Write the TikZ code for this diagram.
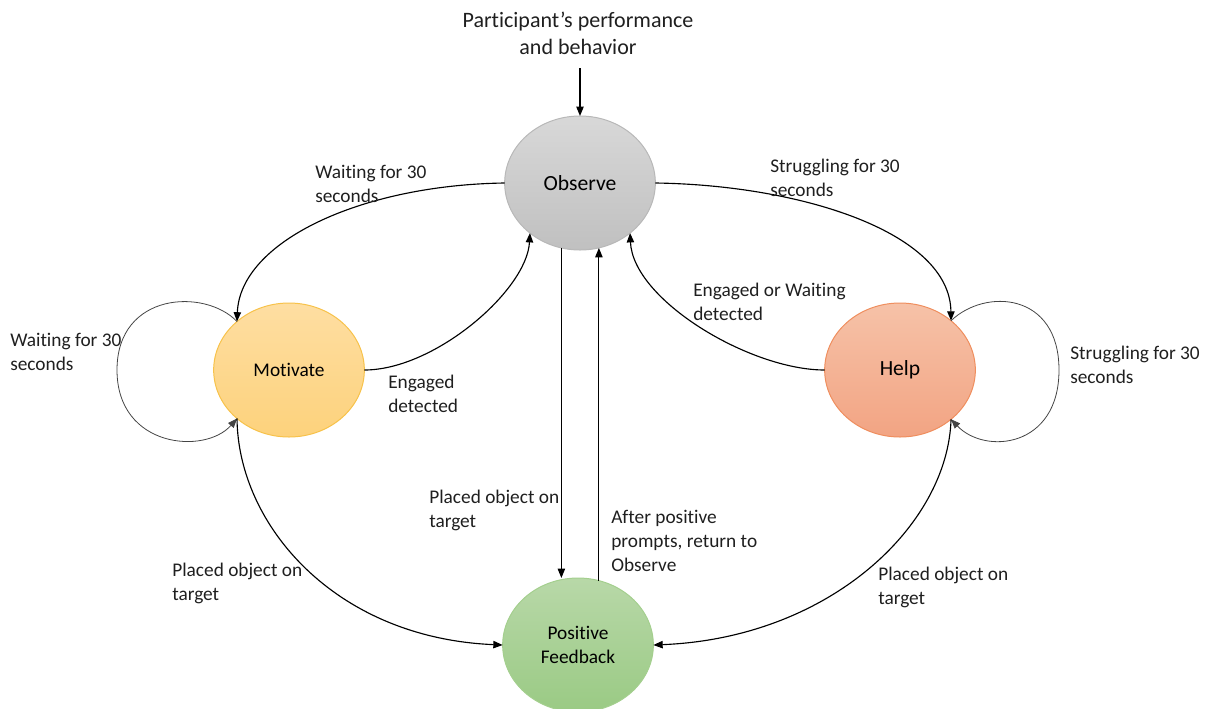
\documentclass[tikz,border=0pt]{standalone}
\usepackage{fontspec}
\setmainfont{Carlito}[Ligatures=NoCommon]
\usetikzlibrary{shapes.geometric,arrows.meta}

\definecolor{obsTop}{HTML}{D8D8D8}
\definecolor{obsBot}{HTML}{C0C0C0}
\definecolor{obsLine}{HTML}{B8B8B8}
\definecolor{motTop}{HTML}{FEDEA2}
\definecolor{motBot}{HTML}{FDD27C}
\definecolor{motLine}{HTML}{F7C24A}
\definecolor{helpTop}{HTML}{F6C2A8}
\definecolor{helpBot}{HTML}{F2A483}
\definecolor{helpLine}{HTML}{EF8E5E}
\definecolor{pfTop}{HTML}{B8D8A8}
\definecolor{pfBot}{HTML}{9ACA84}
\definecolor{pfLine}{HTML}{A4CF8E}
\definecolor{loopLine}{HTML}{444444}

\tikzset{
  state/.style={ellipse, minimum width=113pt, minimum height=100.5pt,
    inner sep=0pt, outer sep=0pt, line width=0.75pt, align=center},
  arr/.style={draw=black, line width=0.85pt,
    -{Triangle[length=7pt,width=5.5pt]}},
  looparr/.style={draw=loopLine, line width=0.6pt,
    -{Triangle[length=7pt,width=5.5pt]}},
  lbl/.style={anchor=west, align=left, inner sep=0pt,
    font=\fontsize{14.5}{18}\selectfont, text=black!88},
}

\begin{document}
\begin{tikzpicture}[x=0.75pt, y=-0.75pt]
\useasboundingbox (0,0) rectangle (1214,708);

% states
\node[state, draw=obsLine, top color=obsTop, bottom color=obsBot,
  font=\fontsize{16.2}{19}\selectfont] (obs) at (580,183) {Observe};
\node[state, draw=motLine, top color=motTop, bottom color=motBot,
  font=\fontsize{14.5}{18}\selectfont] (mot) at (289,370) {Motivate};
\node[state, draw=helpLine, top color=helpTop, bottom color=helpBot,
  font=\fontsize{16.2}{19}\selectfont] (help) at (900,370) {Help};
\node[state, draw=pfLine, top color=pfTop, bottom color=pfBot,
  font=\fontsize{14.5}{18}\selectfont] (pf) at (578,645) {Positive\\Feedback};

% input
\node[align=center, inner sep=0pt, font=\fontsize{16.5}{20.25}\selectfont,
  text=black!88] (inp) at (578,33) {Participant’s performance\\and behavior};
\coordinate (inpEnd) at (580,68);
\draw[arr] (inpEnd) -- (obs.north);

% transitions out of Observe
\draw[arr] (obs.west) .. controls (360,185) and (240,242) .. (mot.137);
\draw[arr] (obs.east) .. controls (800,185) and (950,232) .. (help.44);
\draw[arr] (obs.254) -- (obs.254 |- pf.north);

% returns to Observe
\draw[arr] (mot.east) .. controls (435,370) and (527,290) .. (obs.225);
\draw[arr] (help.west) .. controls (750,370) and (633,300) .. (obs.315);
\draw[arr] (pf.72) -- (pf.72 |- obs.286);

% self loops
\draw[looparr] (mot.137) .. controls (205,288) and (117,292) .. (117,370)
  .. controls (117,448) and (205,455) .. (mot.223);
\draw[looparr] (help.44) .. controls (985,288) and (1059,292) .. (1059,370)
  .. controls (1059,448) and (985,455) .. (help.316);

% placed object on target
\draw[arr] (mot.223) .. controls (238,525) and (335,638) .. (pf.west);
\draw[arr] (help.316) .. controls (948,525) and (830,638) .. (pf.east);

% labels
\node[lbl] (l1) at (315,184) {Waiting for 30\\seconds};
\node[lbl] (l2) at (770,178) {Struggling for 30\\seconds};
\node[lbl] (l3) at (693,302) {Engaged or Waiting\\detected};
\node[lbl] (l4) at (388,394) {Engaged\\detected};
\node[lbl] (l5) at (10,352) {Waiting for 30\\seconds};
\node[lbl] (l6) at (1070,365) {Struggling for 30\\seconds};
\node[lbl] (l7) at (429,510) {Placed object on\\target};
\node[lbl] (l8) at (611,541) {After positive\\prompts, return to\\Observe};
\node[lbl] (l9) at (172,583) {Placed object on\\target};
\node[lbl] (l10) at (878,587) {Placed object on\\target};
\end{tikzpicture}
\end{document}
